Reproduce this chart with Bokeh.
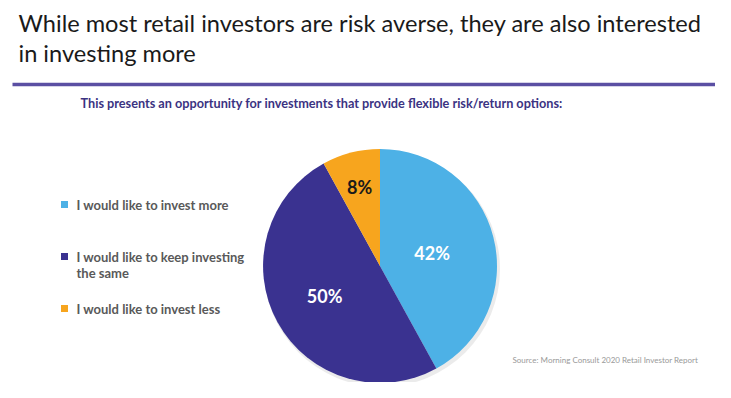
import numpy as np
from bokeh.plotting import figure
from bokeh.models import Range1d
from bokeh.embed import file_html
from bokeh.resources import INLINE
from bokeh.core.properties import value

categories = ["I would like to invest more", "I would like to keep investing the same", "I would like to invest less"]
legend_lines = [["I would like to invest more"], ["I would like to keep investing", "the same"], ["I would like to invest less"]]
shares = [42, 50, 8]
labels = ["42%", "50%", "8%"]
colors = ["#4DB1E6", "#3A3290", "#F7A51E"]
label_colors = ["white", "white", "#1a1a1a"]
title_lines = ["While most retail investors are risk averse, they are also interested", "in investing more"]
subtitle = "This presents an opportunity for investments that provide flexible risk/return options:"
source = "Source: Morning Consult 2020 Retail Investor Report"

W, H = 715, 382
def fx(sx): return sx
def fy(sy): return H - sy

p = figure(width=W, height=H, output_backend="svg", toolbar_location=None,
           x_range=Range1d(0, W), y_range=Range1d(0, H), min_border=0)
p.axis.visible = False
p.grid.visible = False
p.outline_line_color = None
p.background_fill_color = "white"

FONT = "Lato"
# title
for i, t in enumerate(title_lines):
    p.text(x=[fx(18)], y=[fy(22 + 30 * i)], text=[t], text_font=value(FONT), text_font_size="23.6px",
           text_color="#1a1a1a", text_baseline="middle", text_align="left")
# rule
p.line(x=[fx(12), fx(715)], y=[fy(84), fy(84)], line_color="#5B4FA3", line_width=3.5)
# subtitle
p.text(x=[fx(80)], y=[fy(102)], text=[subtitle], text_font=value(FONT), text_font_size="12.7px",
       text_font_style="bold", text_color="#3B3382", text_baseline="middle")

# pie
cx, cy, r = fx(379.5), fy(265.5), 117
p.circle(x=[cx + 2], y=[cy - 3], radius=r + 1, fill_color="#000000", fill_alpha=0.08, line_color=None)
fr = np.array(shares) / sum(shares)
cum = np.concatenate([[0], np.cumsum(fr)])
start = np.pi / 2 - cum[:-1] * 2 * np.pi
end = np.pi / 2 - cum[1:] * 2 * np.pi
p.wedge(x=cx, y=cy, radius=r, start_angle=list(start), end_angle=list(end), direction="clock",
        fill_color=colors, line_color=None)
label_r = [0.46, 0.54, 0.70]
mid = (start + end) / 2
lx = cx + np.array(label_r) * r * np.cos(mid)
ly = cy + np.array(label_r) * r * np.sin(mid)
p.text(x=list(lx), y=list(ly), text=labels, text_color=label_colors, text_font=value(FONT),
       text_font_size="18px", text_font_style="bold", text_align="center", text_baseline="middle")

# legend
leg_y = [204, 256, 308]
for i, lines in enumerate(legend_lines):
    p.scatter(x=[fx(64)], y=[fy(leg_y[i])], marker="square", size=7, fill_color=colors[i], line_color=None)
    for j, t in enumerate(lines):
        p.text(x=[fx(76)], y=[fy(leg_y[i] + 16 * j)], text=[t], text_font=value(FONT), text_font_size="13px",
               text_font_style="bold", text_color="#595959", text_baseline="middle")

p.text(x=[fx(512)], y=[fy(359)], text=[source], text_font=value(FONT), text_font_size="8px",
       text_color="#999999", text_baseline="middle")

open("out.html", "w").write(file_html(p, INLINE))
